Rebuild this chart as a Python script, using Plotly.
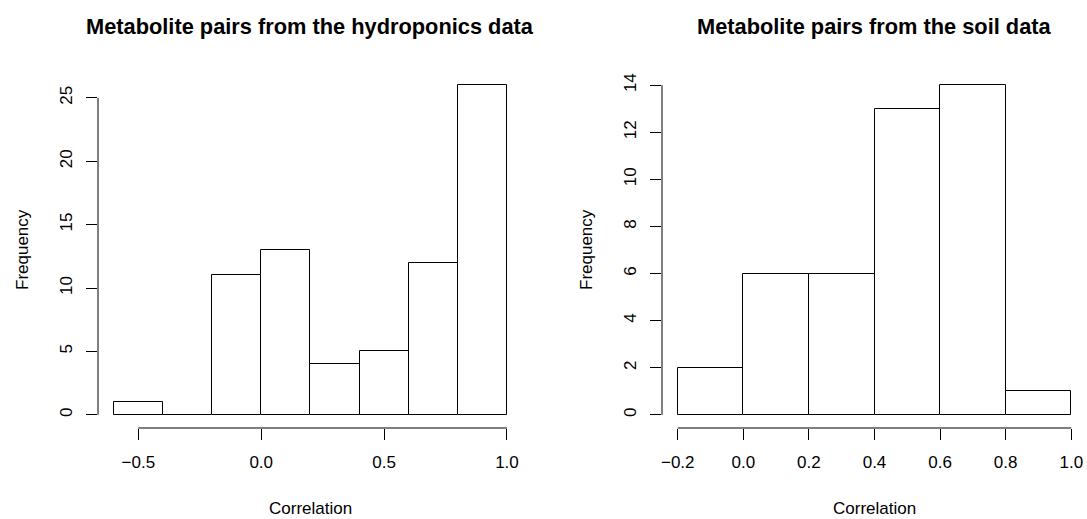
import numpy as np
import plotly.graph_objects as go

# ---- data ----
hydro_breaks = [-0.6, -0.4, -0.2, 0.0, 0.2, 0.4, 0.6, 0.8, 1.0]
hydro_counts = [1, 0, 11, 13, 4, 5, 12, 26]
soil_breaks = [-0.2, 0.0, 0.2, 0.4, 0.6, 0.8, 1.0]
soil_counts = [2, 6, 6, 13, 14, 1]

hydro_xticks = [-0.5, 0.0, 0.5, 1.0]
hydro_xticktext = ["\u22120.5", "0.0", "0.5", "1.0"]
hydro_yticks = [0, 5, 10, 15, 20, 25]
soil_xticks = [-0.2, 0.0, 0.2, 0.4, 0.6, 0.8, 1.0]
soil_xticktext = ["\u22120.2", "0.0", "0.2", "0.4", "0.6", "0.8", "1.0"]
soil_yticks = [0, 2, 4, 6, 8, 10, 12, 14]

titles = ["Metabolite pairs from the hydroponics data", "Metabolite pairs from the soil data"]
xlab = "Correlation"
ylab = "Frequency"

FONT = "Liberation Sans, Arial, Helvetica, sans-serif"
W, H = 1087, 519

fig = go.Figure()

def ext(lo, hi):
    d = (hi - lo) * 0.04
    return [lo - d, hi + d]

panels = [
    (hydro_breaks, hydro_counts, hydro_xticks, hydro_xticktext, hydro_yticks, "x", "y", [98 / W, 522.7 / W]),
    (soil_breaks, soil_counts, soil_xticks, soil_xticktext, soil_yticks, "x2", "y2", [662 / W, 1.0]),
]

for i, (br, ct, xt, xtt, yt, xa, ya, dom) in enumerate(panels):
    br = np.array(br)
    centers = (br[:-1] + br[1:]) / 2
    widths = br[1:] - br[:-1]
    fig.add_trace(go.Bar(
        x=centers, y=ct, width=widths,
        marker=dict(color="white", line=dict(color="black", width=1)),
        xaxis=xa, yaxis=ya, showlegend=False, hoverinfo="x+y",
    ))
    suffix = "" if i == 0 else "2"
    fig.layout["xaxis" + suffix] = dict(
        domain=dom, range=ext(br[0], br[-1]), anchor=ya,
        tickvals=xt, ticktext=xtt, ticks="outside", ticklen=11, tickwidth=1,
        tickcolor="black", showgrid=False, zeroline=False, showline=False,
        tickfont=dict(size=17, color="black", family=FONT),
        ticklabelstandoff=8,
    )
    fig.layout["yaxis" + suffix] = dict(
        domain=[0, 1], range=ext(0, max(ct)), anchor=xa,
        tickvals=yt, ticks="outside", ticklen=11, tickwidth=1,
        tickcolor="black", showgrid=False, zeroline=False, showline=False,
        tickangle=-90, tickfont=dict(size=17, color="black", family=FONT),
        ticklabelstandoff=7,
    )
    xd = xa + " domain"
    yd = ya + " domain"
    # R-style axis lines spanning first to last tick
    fig.add_shape(type="line", xref=xa, yref=yd, x0=xt[0], x1=xt[-1], y0=0, y1=0,
                  line=dict(color="black", width=1))
    fig.add_shape(type="line", xref=xd, yref=ya, x0=0, x1=0, y0=yt[0], y1=yt[-1],
                  line=dict(color="black", width=1))
    # titles
    fig.add_annotation(text="<b>" + titles[i] + "</b>", xref=xd, yref=yd, x=0.5, y=1,
                       yshift=45.5, showarrow=False, yanchor="middle", xanchor="center",
                       font=dict(size=21.8, color="black", family=FONT))
    fig.add_annotation(text=xlab, xref=xd, yref=yd, x=0.5, y=0, yshift=-80,
                       showarrow=False, yanchor="middle", xanchor="center",
                       font=dict(size=17, color="black", family=FONT))
    fig.add_annotation(text=ylab, xref=xd, yref=yd, x=0, y=0.5, xshift=-76,
                       showarrow=False, yanchor="middle", xanchor="center", textangle=-90,
                       font=dict(size=17, color="black", family=FONT))

fig.update_layout(
    width=W, height=H, margin=dict(l=0, r=0, t=71.5, b=91),
    plot_bgcolor="white", paper_bgcolor="white", bargap=0,
    font=dict(family=FONT, color="black"),
)

fig.write_html("out.html")
